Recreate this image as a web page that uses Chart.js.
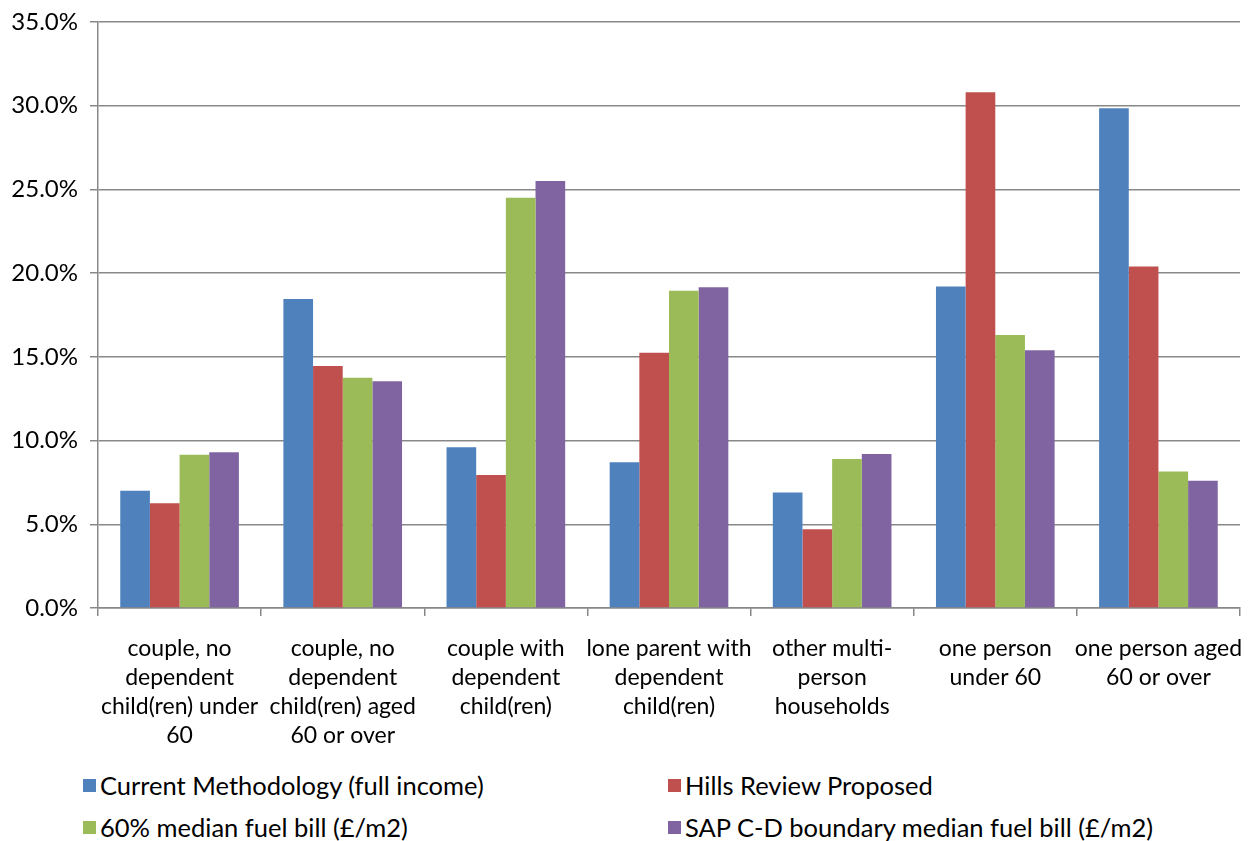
<!DOCTYPE html>
<html>
<head>
<meta charset="utf-8">
<script src="https://cdn.jsdelivr.net/npm/chart.js@4/dist/chart.umd.min.js"></script>
<style>
  body { margin: 0; background: #fff; font-family: Lato, "Open Sans", sans-serif; }
  #wrap { position: relative; width: 1252px; height: 841px; }
  #box { position: absolute; left: 0; top: 0; width: 1252px; height: 760px; }
  #legend { position: absolute; left: 83px; top: 770px; width: 1160px; font-size: 25.5px; color: #000; }
  .item { position: absolute; display: flex; align-items: center; white-space: nowrap; }
  .sw { width: 13px; height: 13px; margin-right: 4px; }
</style>
</head>
<body>
<div id="wrap">
  <div id="box"><canvas id="chart"></canvas></div>
  <div id="legend"></div>
</div>
<script>
const categories = [
    ['couple, no', 'dependent', 'child(ren) under', '60'],
    ['couple, no', 'dependent', 'child(ren) aged', '60 or over'],
    ['couple with', 'dependent', 'child(ren)'],
    ['lone parent with', 'dependent', 'child(ren)'],
    ['other multi-', 'person', 'households'],
    ['one person', 'under 60'],
    ['one person aged', '60 or over']
];

const seriesNames = [
    'Current Methodology (full income)',
    'Hills Review Proposed',
    '60% median fuel bill (£/m2)',
    'SAP C-D boundary median fuel bill (£/m2)'
];
const seriesColors = ['#4F81BD', '#C0504D', '#9BBB59', '#8064A2'];

const currentMethod = [7.0, 18.45, 9.6, 8.7, 6.9, 19.2, 29.85];
const hillsReview   = [6.25, 14.45, 7.95, 15.25, 4.7, 30.8, 20.4];
const medianBill60  = [9.15, 13.75, 24.5, 18.95, 8.9, 16.3, 8.15];
const sapBoundary   = [9.3, 13.55, 25.5, 19.15, 9.2, 15.4, 7.6];

const yTicks = { min: 0, max: 35, step: 5 };

const values = [currentMethod, hillsReview, medianBill60, sapBoundary];
const axisGray = '#888888';

const ctx = document.getElementById('chart').getContext('2d');
new Chart(ctx, {
    type: 'bar',
    data: {
        labels: categories,
        datasets: values.map((v, i) => ({
            label: seriesNames[i],
            data: v,
            backgroundColor: seriesColors[i],
            categoryPercentage: 4 / 5.5,
            barPercentage: 1
        }))
    },
    options: {
        responsive: true, maintainAspectRatio: false, animation: false,
        layout: { padding: { top: 22, right: 12, left: 0, bottom: 0 } },
        plugins: { legend: { display: false }, tooltip: { enabled: false } },
        scales: {
            x: {
                grid: { drawOnChartArea: false, color: axisGray, lineWidth: 1.5, tickLength: 8, offset: true },
                border: { color: axisGray, width: 1.5 },
                ticks: {
                    color: '#000', maxRotation: 0, autoSkip: false, padding: 18,
                    font: { family: 'Lato', size: 23, lineHeight: 29 / 23 }
                },
                afterFit: s => { s.height = 152; s.paddingLeft = 0; s.paddingRight = 0; }
            },
            y: {
                min: yTicks.min, max: yTicks.max,
                grid: { color: axisGray, lineWidth: 1.5, tickLength: 8 },
                border: { color: axisGray, width: 1.5 },
                ticks: {
                    stepSize: yTicks.step, color: '#000', padding: 12,
                    font: { family: 'Lato', size: 24 },
                    callback: v => v.toFixed(1) + '%'
                },
                afterFit: s => { s.width = 98; s.paddingTop = 0; s.paddingBottom = 0; }
            }
        }
    }
});

// legend laid out in two columns like the original
const legend = document.getElementById('legend');
const colX = [0, 585], rowY = [0, 42];
seriesNames.forEach((name, i) => {
    const el = document.createElement('div');
    el.className = 'item';
    el.style.left = colX[i % 2] + 'px';
    el.style.top = rowY[Math.floor(i / 2)] + 'px';
    el.innerHTML = '<span class="sw" style="background:' + seriesColors[i] + '"></span>' + name;
    legend.appendChild(el);
});
</script>
</body>
</html>
